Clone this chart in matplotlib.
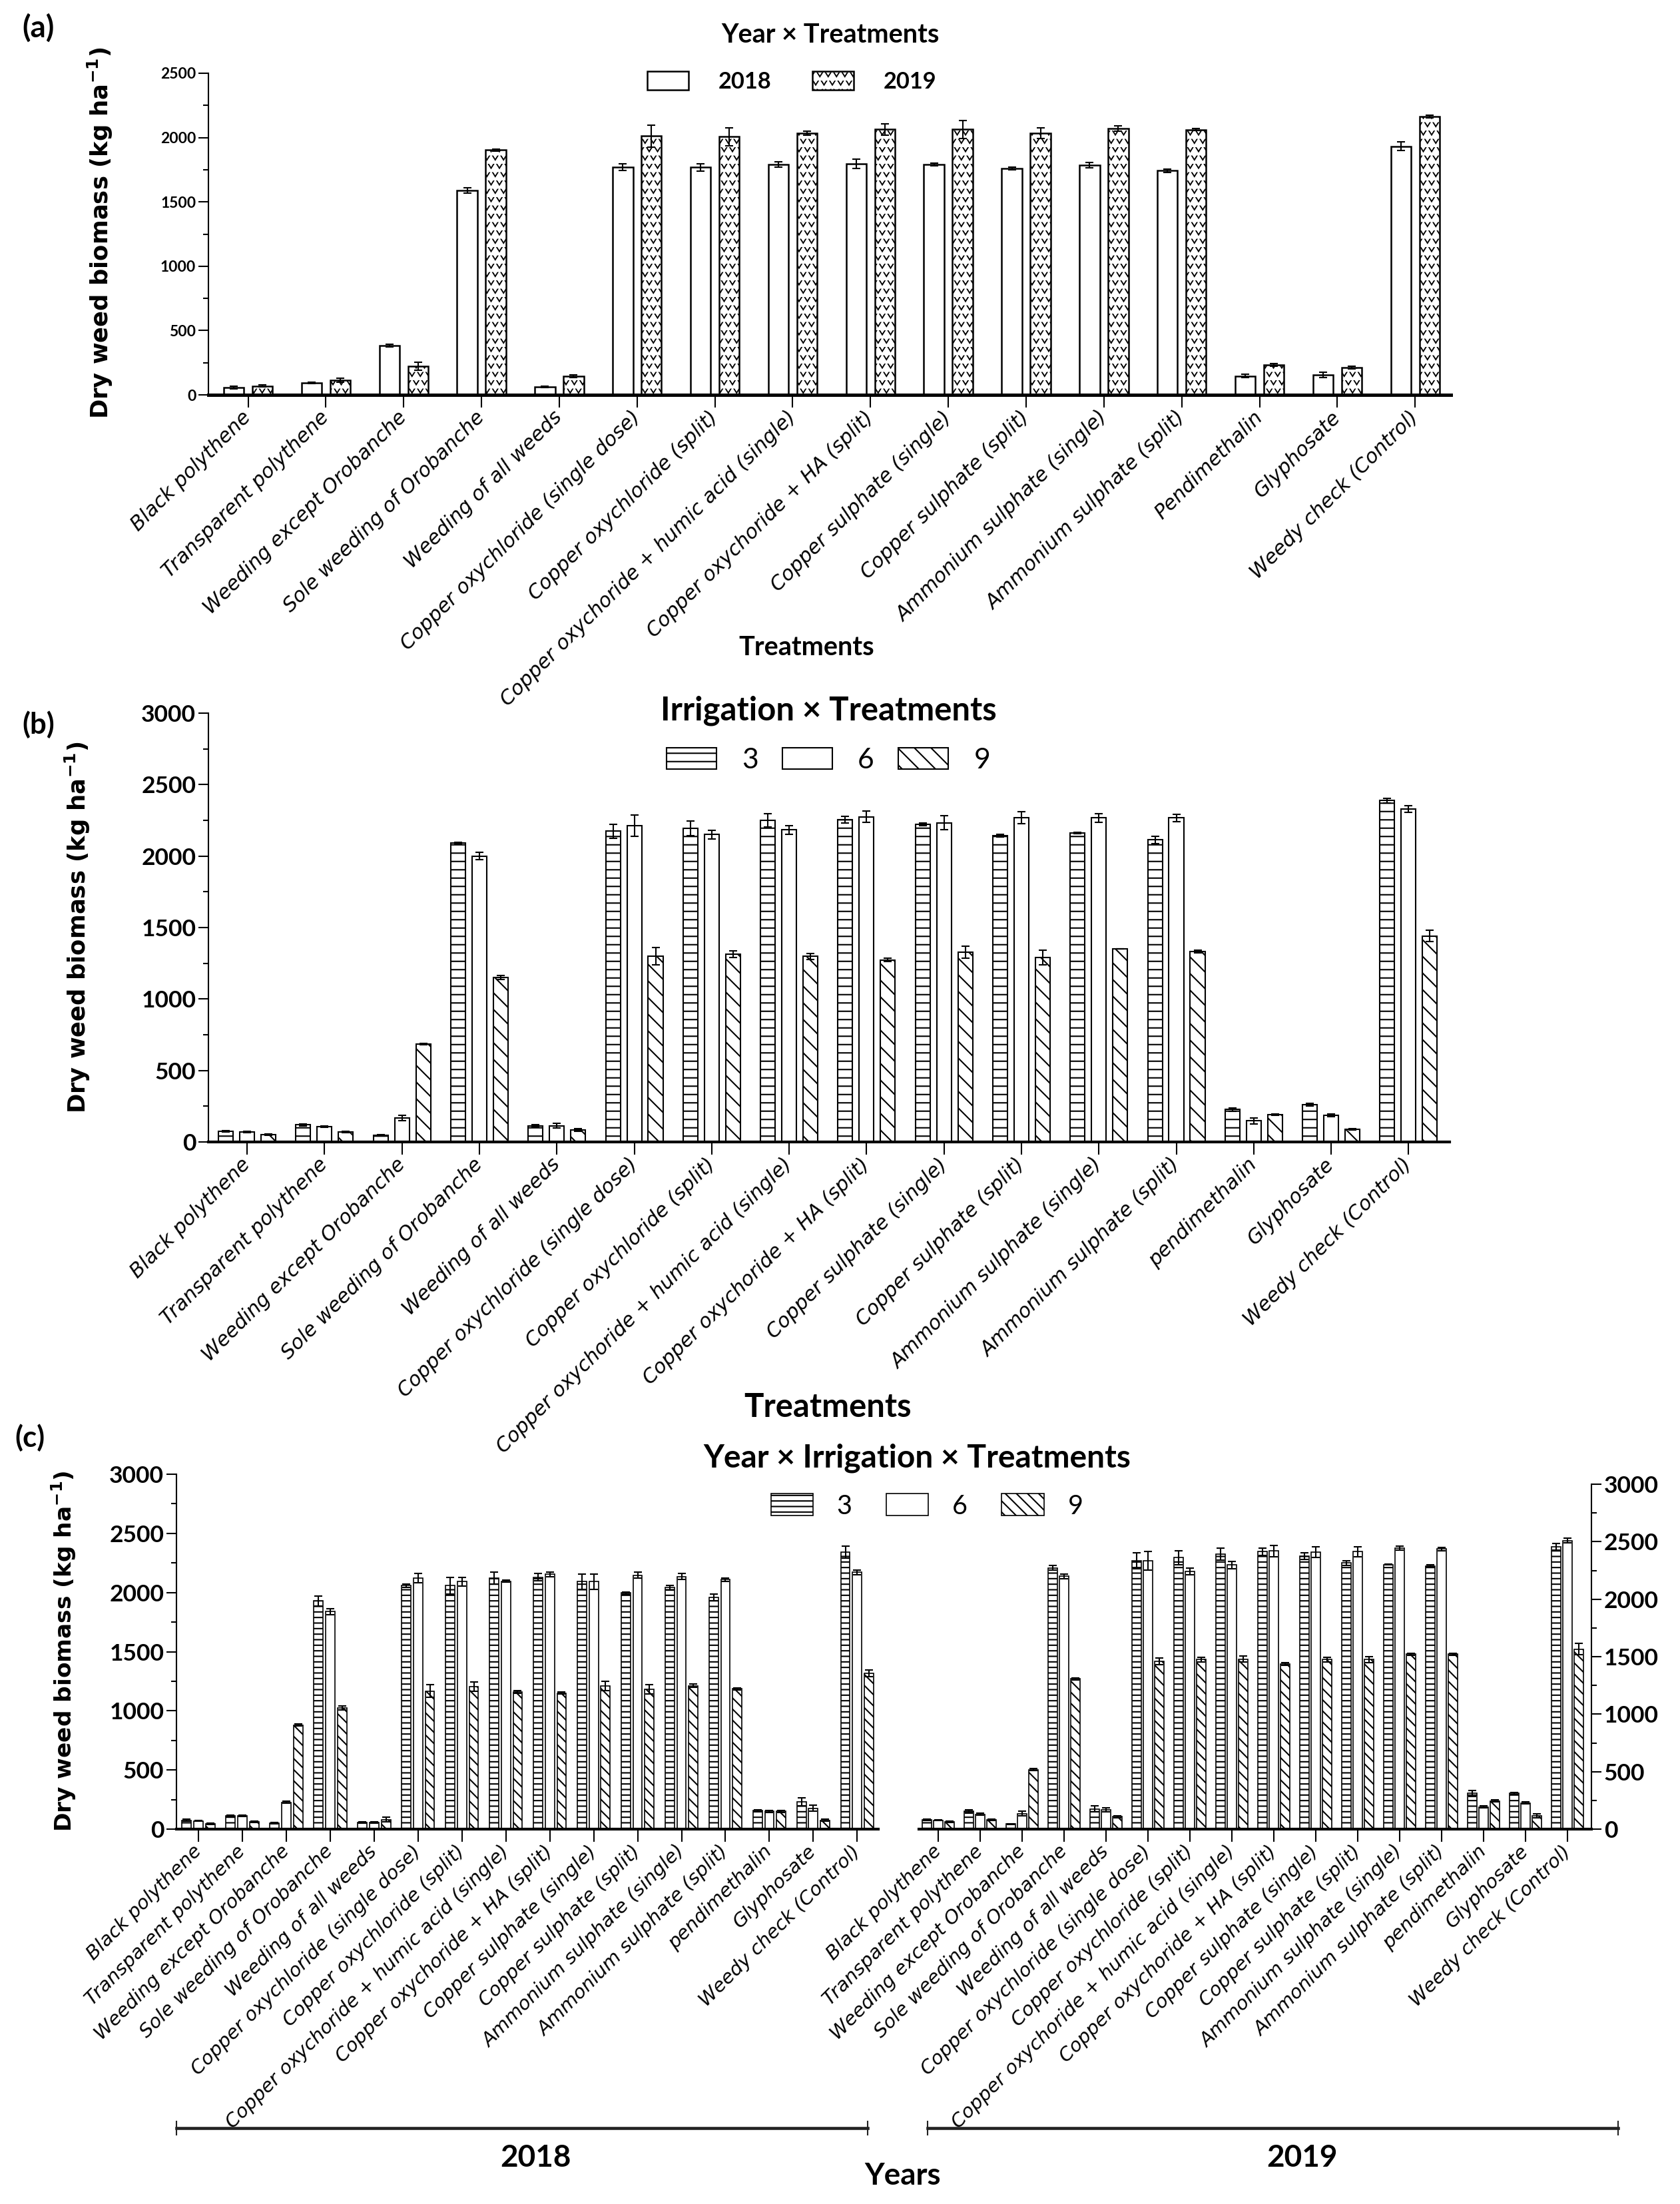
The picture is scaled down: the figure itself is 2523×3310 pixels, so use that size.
import warnings
warnings.filterwarnings("ignore")
import numpy as np
import matplotlib
matplotlib.use("Agg")
import matplotlib.pyplot as plt
import matplotlib.hatch as mhatch
from matplotlib.path import Path
from matplotlib.lines import Line2D

# ---------------- data ----------------
treatments_a = ['Black polythene', 'Transparent polythene', 'Weeding except Orobanche',
                'Sole weeding of Orobanche', 'Weeding of all weeds',
                'Copper oxychloride (single dose)', 'Copper oxychloride (split)',
                'Copper oxychoride + humic acid (single)', 'Copper oxychoride + HA (split)',
                'Copper sulphate (single)', 'Copper sulphate (split)',
                'Ammonium sulphate (single)', 'Ammonium sulphate (split)',
                'Pendimethalin', 'Glyphosate', 'Weedy check (Control)']
treatments_bc = treatments_a[:13] + ['pendimethalin', 'Glyphosate', 'Weedy check (Control)']

years = ['2018', '2019']
irrigations = ['3', '6', '9']

# (a) Year x Treatments
a_2018 = [58, 91, 383, 1589, 61, 1771, 1768, 1790, 1797, 1790, 1760, 1786, 1742, 147, 156, 1933]
a_2019 = [69, 113, 223, 1903, 147, 2013, 2006, 2035, 2063, 2063, 2035, 2071, 2061, 234, 212, 2165]
a_err_2018 = [10, 5, 8, 20, 5, 25, 30, 20, 35, 10, 10, 20, 15, 15, 22, 35]
a_err_2019 = [8, 15, 30, 8, 10, 85, 70, 15, 45, 70, 40, 20, 8, 10, 12, 10]

# (b) Irrigation x Treatments
b_3 = [76, 119, 48, 2090, 114, 2174, 2195, 2250, 2255, 2221, 2143, 2162, 2114, 226, 262, 2388]
b_6 = [71, 107, 167, 2000, 114, 2214, 2150, 2183, 2275, 2233, 2267, 2267, 2267, 148, 186, 2329]
b_9 = [52, 71, 686, 1150, 83, 1298, 1314, 1298, 1274, 1329, 1290, 1352, 1333, 190, 90, 1440]
b_err_3 = [5, 8, 5, 5, 8, 50, 50, 48, 25, 10, 10, 5, 25, 10, 10, 15]
b_err_6 = [5, 5, 20, 25, 15, 75, 32, 30, 40, 50, 42, 30, 25, 20, 8, 25]
b_err_9 = [5, 5, 5, 15, 10, 60, 25, 20, 10, 42, 53, 0, 10, 5, 5, 40]

# (c) Year x Irrigation x Treatments
c18_3 = [75, 113, 50, 1928, 58, 2059, 2059, 2121, 2129, 2091, 1996, 2041, 1958, 156, 231, 2340]
c18_6 = [70, 113, 226, 1840, 58, 2121, 2091, 2096, 2154, 2091, 2146, 2134, 2109, 151, 176, 2172]
c18_9 = [45, 63, 879, 1024, 80, 1167, 1205, 1160, 1150, 1210, 1180, 1212, 1185, 151, 75, 1318]
c18_err_3 = [8, 8, 5, 40, 5, 15, 70, 50, 30, 65, 10, 20, 30, 10, 35, 50]
c18_err_6 = [5, 8, 8, 25, 5, 40, 35, 10, 20, 65, 25, 25, 15, 8, 25, 20]
c18_err_9 = [5, 5, 8, 15, 20, 55, 40, 10, 10, 40, 40, 15, 10, 8, 10, 30]

c19_3 = [83, 155, 44, 2271, 176, 2333, 2361, 2392, 2413, 2374, 2315, 2302, 2289, 310, 310, 2457]
c19_6 = [78, 129, 134, 2198, 168, 2333, 2242, 2297, 2418, 2410, 2413, 2444, 2436, 194, 228, 2509]
c19_9 = [65, 83, 517, 1306, 109, 1461, 1474, 1479, 1435, 1474, 1474, 1521, 1521, 246, 116, 1565]
c19_err_3 = [5, 15, 5, 20, 25, 70, 60, 50, 30, 30, 20, 5, 10, 25, 10, 30]
c19_err_6 = [5, 10, 20, 20, 20, 80, 30, 30, 50, 45, 45, 15, 15, 10, 10, 20]
c19_err_9 = [5, 5, 8, 10, 8, 30, 20, 25, 10, 20, 25, 10, 10, 10, 15, 50]

# ---------------- custom chevron hatch ----------------
class ChevronHatch(mhatch.Shapes):
    filled = True
    size = 0.7

    def __init__(self, hatch, density):
        self.num_rows = hatch.count('v') * density
        self.shape_vertices = np.array([[-0.5, 0.4], [0.0, -0.4], [0.5, 0.4],
                                        [0.38, 0.4], [0.0, -0.2], [-0.38, 0.4],
                                        [-0.5, 0.4]])
        self.shape_codes = np.array([Path.MOVETO, Path.LINETO, Path.LINETO,
                                     Path.LINETO, Path.LINETO, Path.LINETO,
                                     Path.CLOSEPOLY], dtype=Path.code_type)
        super().__init__(hatch, density)

mhatch._hatch_types.append(ChevronHatch)

# ---------------- figure ----------------
W, H, DPI = 2523, 3310, 150
plt.rcParams['font.family'] = ['DejaVu Sans']
plt.rcParams['hatch.linewidth'] = 1.0
plt.rcParams['mathtext.fontset'] = 'dejavusans'

fig = plt.figure(figsize=(W / DPI, H / DPI), dpi=DPI)
fig.patch.set_facecolor('white')


def fx(px):
    return px / W


def fy(py):
    return 1 - py / H


def add_ax(l, t, r, b):
    return fig.add_axes([fx(l), fy(b), (r - l) / W, (b - t) / H])


ERR = dict(ecolor='black', elinewidth=1.0, capsize=3, capthick=1.0)
NUMFONT = dict(family=['Lato', 'DejaVu Sans'], weight='bold')
TITLEFONT = dict(family=['Lato', 'DejaVu Sans'], weight='bold')
YLABEL = r'Dry weed biomass (kg ha$^{\mathbf{-1}}$)'


def style(ax, ymax, labels, tick_fs, lab_fs, xlim, right=False, xspine_lw=2.4):
    ax.set_ylim(0, ymax)
    ax.set_xlim(*xlim)
    ax.spines['top'].set_visible(False)
    if right:
        ax.spines['left'].set_visible(False)
        ax.spines['right'].set_linewidth(1.0)
        ax.yaxis.tick_right()
        ax.yaxis.set_label_position('right')
    else:
        ax.spines['right'].set_visible(False)
        ax.spines['left'].set_linewidth(1.0)
    ax.spines['bottom'].set_linewidth(xspine_lw)
    yt = np.arange(0, ymax + 1, 500)
    ax.set_yticks(yt)
    ax.set_yticks(np.arange(250, ymax, 500), minor=True)
    ax.set_yticklabels([str(int(v)) for v in yt], fontsize=tick_fs, **NUMFONT)
    ax.tick_params(axis='y', which='major', length=7, width=1.0, pad=2)
    ax.tick_params(axis='y', which='minor', length=4, width=1.0)
    ax.set_xticks(np.arange(len(labels)))
    ax.set_xticklabels(labels, rotation=45, ha='right', va='center',
                       rotation_mode='anchor', fontsize=lab_fs,
                       fontstyle='oblique', family='DejaVu Sans')
    ax.tick_params(axis='x', length=9, width=1.0, pad=5)
    ax.set_facecolor('none')


x = np.arange(len(treatments_a))

# ---------------- panel (a) ----------------
ax_a = add_ax(313, 110, 2179, 593)
wa = 0.26
ba1 = ax_a.bar(x - 0.184, a_2018, wa, yerr=a_err_2018, error_kw=ERR,
               facecolor='white', edgecolor='black', linewidth=1.2, label=years[0])
ba2 = ax_a.bar(x + 0.184, a_2019, wa, yerr=a_err_2019, error_kw=ERR,
               facecolor='white', edgecolor='black', linewidth=1.2, hatch='vv', label=years[1])
for p in ba2.patches:
    if hasattr(p, 'set_hatch_linewidth'):
        p.set_hatch_linewidth(0.45)
style(ax_a, 2500, treatments_a, 11, 14.4, (-0.51, 15.46))
leg_a = ax_a.legend([ba1, ba2], years, loc='center', bbox_to_anchor=(fx(1189), fy(123)),
                    bbox_transform=fig.transFigure, ncol=2, frameon=False,
                    prop=dict(family=['Lato', 'DejaVu Sans'], weight='bold', size=16.5),
                    handlelength=1.8, handleheight=0.9, handletextpad=1.3,
                    columnspacing=1.8, borderpad=0, borderaxespad=0)
for p in leg_a.get_patches():
    if hasattr(p, 'set_hatch_linewidth'):
        p.set_hatch_linewidth(0.45)
fig.text(fx(1247), fy(52), 'Year × Treatments', ha='center', va='center', fontsize=19, **TITLEFONT)
fig.text(fx(1211), fy(973), 'Treatments', ha='center', va='center', fontsize=19, **TITLEFONT)
fig.text(fx(58), fy(42), '(a)', ha='center', va='center', fontsize=22, **TITLEFONT)
fig.text(fx(150), fy(350), YLABEL, rotation=90, ha='center', va='center',
         fontsize=17, fontweight='bold', family='DejaVu Sans')

# ---------------- panel (b) ----------------
ax_b = add_ax(313, 1071, 2177, 1715)
wb = 0.19
ob = 0.275
bb1 = ax_b.bar(x - ob, b_3, wb, yerr=b_err_3, error_kw=ERR, facecolor='white',
               edgecolor='black', linewidth=1.0, hatch='--', label=irrigations[0])
bb2 = ax_b.bar(x, b_6, wb, yerr=b_err_6, error_kw=ERR, facecolor='white',
               edgecolor='black', linewidth=1.0, label=irrigations[1])
bb3 = ax_b.bar(x + ob, b_9, wb, yerr=b_err_9, error_kw=ERR, facecolor='white',
               edgecolor='black', linewidth=1.0, hatch='\\\\', label=irrigations[2])
style(ax_b, 3000, treatments_bc, 17, 14.4, (-0.5, 15.53), xspine_lw=2.0)
ax_b.legend([bb1, bb2, bb3], irrigations, loc='center', bbox_to_anchor=(fx(1244), fy(1142)),
            bbox_transform=fig.transFigure, ncol=3, frameon=False,
            prop=dict(family=['Lato', 'DejaVu Sans'], size=20.5),
            handlelength=1.75, handleheight=0.75, handletextpad=0.9,
            columnspacing=0.85, borderpad=0, borderaxespad=0)
fig.text(fx(1244), fy(1067), 'Irrigation × Treatments', ha='center', va='center', fontsize=23.5, **TITLEFONT)
fig.text(fx(1243), fy(2113), 'Treatments', ha='center', va='center', fontsize=23.5, **TITLEFONT)
fig.text(fx(58), fy(1088), '(b)', ha='center', va='center', fontsize=21, **TITLEFONT)
fig.text(fx(116), fy(1393), YLABEL, rotation=90, ha='center', va='center',
         fontsize=17, fontweight='bold', family='DejaVu Sans')

# ---------------- panel (c) ----------------
wc = 0.21
oc = 0.27
ax_c1 = add_ax(265, 2214, 1319, 2747)
cc1 = ax_c1.bar(x - oc, c18_3, wc, yerr=c18_err_3, error_kw=ERR, facecolor='white',
                edgecolor='black', linewidth=0.8, hatch='---', label=irrigations[0])
cc2 = ax_c1.bar(x, c18_6, wc, yerr=c18_err_6, error_kw=ERR, facecolor='white',
                edgecolor='black', linewidth=0.8, label=irrigations[1])
cc3 = ax_c1.bar(x + oc, c18_9, wc, yerr=c18_err_9, error_kw=ERR, facecolor='white',
                edgecolor='black', linewidth=0.8, hatch='\\\\\\', label=irrigations[2])
style(ax_c1, 3000, treatments_bc, 17, 13.8, (-0.5, 15.48), xspine_lw=2.0)

ax_c2 = add_ax(1380, 2229, 2390, 2747)
ax_c2.bar(x - oc, c19_3, wc, yerr=c19_err_3, error_kw=ERR, facecolor='white',
          edgecolor='black', linewidth=0.8, hatch='---')
ax_c2.bar(x, c19_6, wc, yerr=c19_err_6, error_kw=ERR, facecolor='white',
          edgecolor='black', linewidth=0.8)
ax_c2.bar(x + oc, c19_9, wc, yerr=c19_err_9, error_kw=ERR, facecolor='white',
          edgecolor='black', linewidth=0.8, hatch='\\\\\\')
style(ax_c2, 3000, treatments_bc, 17, 13.8, (-0.46, 15.57), right=True, xspine_lw=2.0)

ax_c1.legend([cc1, cc2, cc3], irrigations, loc='center', bbox_to_anchor=(fx(1392), fy(2262)),
             bbox_transform=fig.transFigure, ncol=3, frameon=False,
             prop=dict(family=['Lato', 'DejaVu Sans'], size=19),
             handlelength=1.6, handleheight=0.9, handletextpad=0.9,
             columnspacing=1.3, borderpad=0, borderaxespad=0)
fig.text(fx(1377), fy(2190), 'Year × Irrigation × Treatments', ha='center', va='center',
         fontsize=23, **TITLEFONT)
fig.text(fx(45), fy(2159), '(c)', ha='center', va='center', fontsize=21, **TITLEFONT)
fig.text(fx(96), fy(2480), YLABEL, rotation=90, ha='center', va='center',
         fontsize=16.5, fontweight='bold', family='DejaVu Sans')

# year brackets
for (l, r, yr, cx) in [(265, 1303, years[0], 804), (1393, 2430, years[1], 1955)]:
    fig.add_artist(Line2D([fx(l), fx(r)], [fy(3196), fy(3196)], transform=fig.transFigure,
                          color='#222222', lw=2.2))
    for e in (l, r):
        fig.add_artist(Line2D([fx(e), fx(e)], [fy(3186), fy(3206)], transform=fig.transFigure,
                              color='#222222', lw=1.0))
    fig.text(fx(cx), fy(3241), yr, ha='center', va='center', fontsize=22, **TITLEFONT)
fig.text(fx(1356), fy(3268), 'Years', ha='center', va='center', fontsize=22, **TITLEFONT)

fig.savefig('out.png', dpi=DPI, facecolor='white')
